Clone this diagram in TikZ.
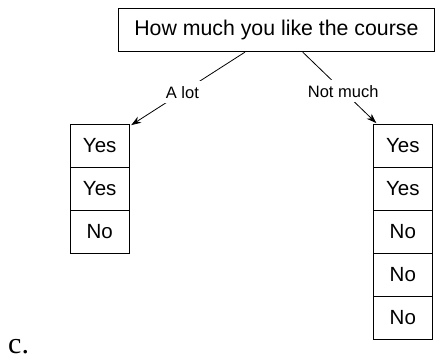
\documentclass[tikz,border=0pt]{standalone}
\usepackage{fontspec}
\setmainfont{Liberation Sans}
\newfontfamily\partfont{Liberation Serif}
\usetikzlibrary{positioning,arrows.meta}
\tikzset{
  cell/.style={draw, line width=0.8pt, minimum width=59pt, minimum height=43pt,
    inner sep=0pt, outer sep=0pt, font=\fontsize{20.5}{23}\selectfont},
  branch/.style={line width=0.8pt, -{Stealth[length=10pt,width=7pt]}},
  answer/.style={fill=white, inner sep=5pt, font=\fontsize{16.5}{18}\selectfont}
}
\begin{document}
\begin{tikzpicture}[x=1pt, y=-1pt]
  \useasboundingbox (0,0) rectangle (435,360);
  % question
  \node[draw, line width=0.8pt, minimum width=315.5pt, minimum height=43pt, inner sep=0pt,
    font=\fontsize{21.3}{24}\selectfont] (root) at (276.4,30.2) {How much you like the course};
  % left column
  \node[cell] (l1) at (99.7,145.6) {Yes};
  \node[cell, below=0pt of l1] (l2) {Yes};
  \node[cell, below=0pt of l2] (l3) {No};
  % right column
  \node[cell] (r1) at (402.8,145.6) {Yes};
  \node[cell, below=0pt of r1] (r2) {Yes};
  \node[cell, below=0pt of r2] (r3) {No};
  \node[cell, below=0pt of r3] (r4) {No};
  \node[cell, below=0pt of r4] (r5) {No};
  % branches
  \draw[branch] ([xshift=-31.4pt]root.south) -- node[answer, pos=0.55]{A lot}
    ([xshift=2pt, yshift=-1pt]l1.north east);
  \draw[branch] ([xshift=26.3pt]root.south) -- node[answer, pos=0.55]{Not much}
    ([xshift=3pt, yshift=1pt]r1.north west);
  \node[anchor=base west, inner sep=0pt, font=\partfont\fontsize{30}{32}\selectfont] (part) at (8,353) {c.};
\end{tikzpicture}
\end{document}
